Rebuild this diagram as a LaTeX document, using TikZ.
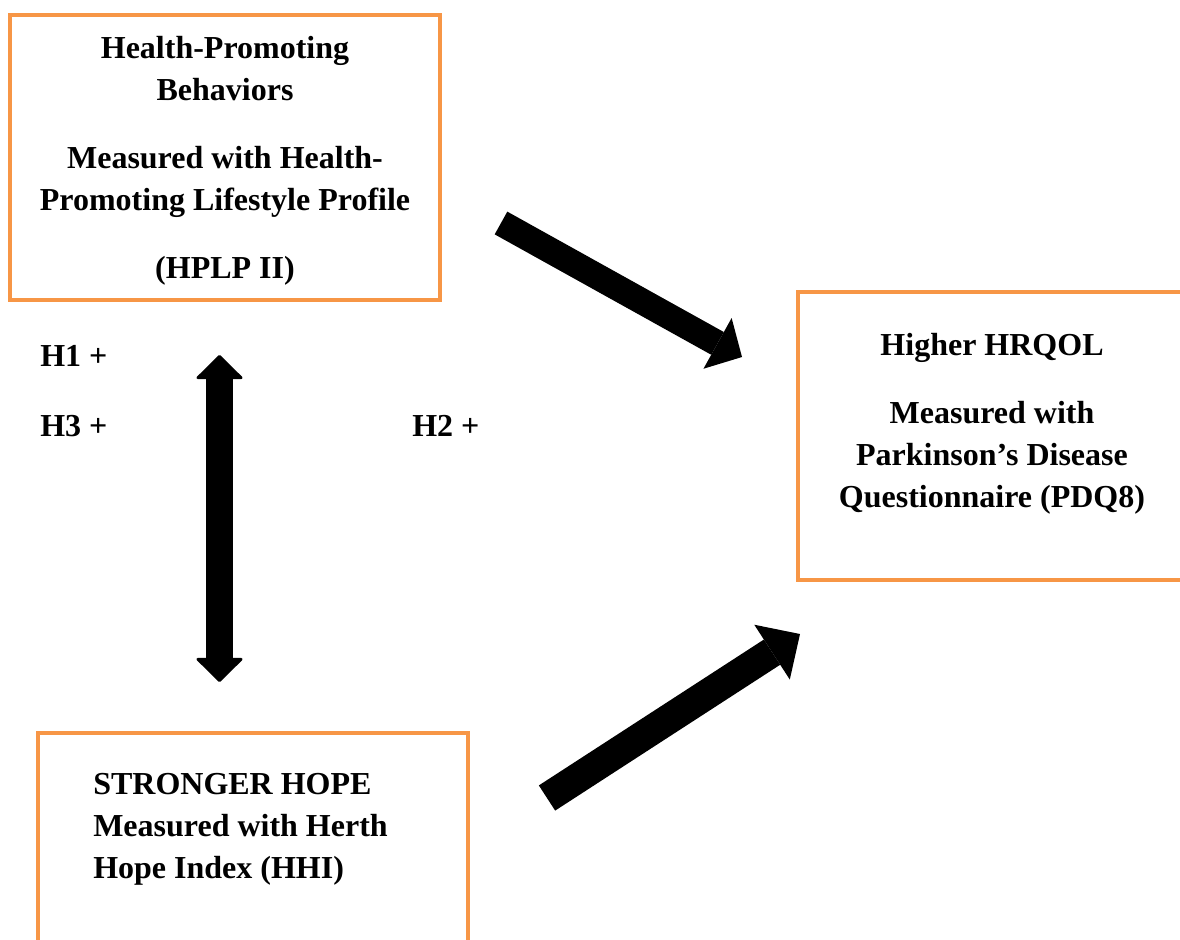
\documentclass[tikz,border=0pt]{standalone}
\usepackage{fontspec}
\setmainfont{Liberation Serif}
\usepackage{xcolor}
\usepackage{tikz}
\usetikzlibrary{arrows.meta}
\definecolor{boxorange}{HTML}{F79646}

\begin{document}
\begin{tikzpicture}[x=0.75pt,y=0.75pt,yscale=-1,xscale=1,
    varbox/.style={draw=boxorange,line width=3pt,inner sep=0pt},
    vartext/.style={inner sep=0pt,font=\bfseries\fontsize{24pt}{31.5pt}\selectfont},
    hyplabel/.style={anchor=base west,inner sep=0pt,font=\bfseries\fontsize{24pt}{31.5pt}\selectfont},
    fatarrow/.style={line width=#1}]
    \useasboundingbox (0,0) rectangle (1180,939);

    % boxes
    \node [varbox, minimum width=322.5pt, minimum height=213.75pt] (hplp) at (225,157.5) {};
    \node [varbox, minimum width=291.75pt, minimum height=216pt] (hrqol) at (992.5,436) {};
    \node [varbox, minimum width=322.5pt, minimum height=170.25pt] (hhi) at (253,846.5) {};

    \node [vartext, anchor=north, align=center] (hplptext) at (225,36)
        {Health-Promoting\\Behaviors\\[19.5pt]Measured with Health-\\Promoting Lifestyle Profile\\[19.5pt](HPLP II)};
    \node [vartext, anchor=north, align=center] (hrqoltext) at (992,333)
        {Higher HRQOL\\[19.5pt]Measured with\\Parkinson’s Disease\\Questionnaire (PDQ8)};
    \node [vartext, anchor=north west, align=left] (hhitext) at (93,773)
        {STRONGER HOPE\\Measured with Herth\\Hope Index (HHI)};

    % hypotheses
    \node [hyplabel] (h1) at (40,366) {H1 +};
    \node [hyplabel] (h3) at (40,436) {H3 +};
    \node [hyplabel] (h2) at (412,436) {H2 +};

    % arrows
    \coordinate (a1s) at (501,223);
    \coordinate (a1e) at (742,357);
    \coordinate (a2s) at (547,798);
    \coordinate (a2e) at (800,634);
    \coordinate (a3s) at (219.5,355);
    \coordinate (a3e) at (219.5,682);
    \draw [fatarrow=19.5pt, -{Triangle[length=21pt,width=43.5pt,line width=0pt 0 0]}] (a1s) -- (a1e);
    \draw [fatarrow=22.5pt, -{Triangle[length=25pt,width=49pt,line width=0pt 0 0]}] (a2s) -- (a2e);
    \draw [fatarrow=20.5pt, {Triangle[length=18.5pt,width=37pt,line width=2pt 0 0,round]}-{Triangle[length=18.5pt,width=37pt,line width=2pt 0 0,round]}] (a3s) -- (a3e);
\end{tikzpicture}
\end{document}
